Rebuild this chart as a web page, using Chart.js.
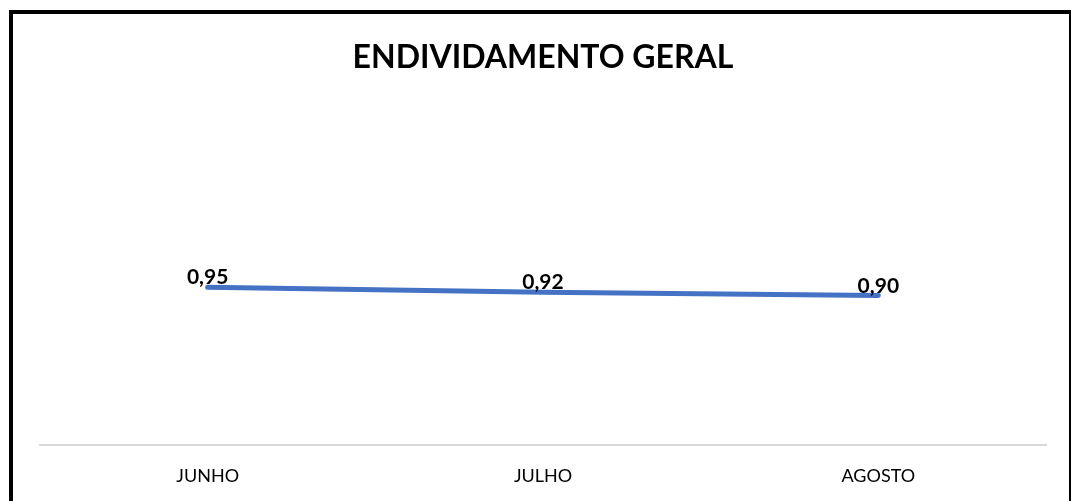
<!DOCTYPE html>
<html>
<head>
<meta charset="utf-8">
<script src="https://cdn.jsdelivr.net/npm/chart.js@4"></script>
<style>
  html, body { margin: 0; padding: 0; background: #fff; overflow: hidden; }
  #wrap { position: relative; width: 1074px; height: 501px; overflow: hidden; }
  #c { position: absolute; left: 0; top: 0; }
  #frame { position: absolute; left: 9px; top: 10px; width: 1056px; height: 520px;
           border-left: 4px solid #000; border-top: 4px solid #000; border-right: 2px solid #000;
           pointer-events: none; }
</style>
</head>
<body>
<div id="wrap">
  <canvas id="c" width="1074" height="521"></canvas>
  <div id="frame"></div>
</div>
<script>
const titleText = "ENDIVIDAMENTO GERAL";
const categories = ["JUNHO", "JULHO", "AGOSTO"];
const values = [0.95, 0.92, 0.90];
const valueLabels = ["0,95", "0,92", "0,90"];

const dataLabelPlugin = {
  id: 'dataLabels',
  afterDatasetsDraw(chart) {
    const ctx = chart.ctx;
    const meta = chart.getDatasetMeta(0);
    ctx.save();
    ctx.font = 'bold 21px Lato';
    ctx.fillStyle = '#000';
    ctx.textAlign = 'center';
    ctx.textBaseline = 'alphabetic';
    meta.data.forEach((pt, i) => {
      ctx.fillText(valueLabels[i], pt.x, pt.y - 3);
    });
    ctx.restore();
  }
};

new Chart(document.getElementById('c'), {
  type: 'line',
  data: {
    labels: categories,
    datasets: [{
      data: values,
      borderColor: '#4472C4',
      borderWidth: 5,
      borderCapStyle: 'round',
      borderJoinStyle: 'round',
      pointRadius: 0,
      pointHoverRadius: 0,
      tension: 0,
      fill: false
    }]
  },
  options: {
    responsive: false,
    animation: false,
    events: [],
    layout: { padding: { left: 40, right: 28, top: 38, bottom: 14 } },
    plugins: {
      legend: { display: false },
      tooltip: { enabled: false },
      title: {
        display: true,
        text: titleText,
        color: '#000',
        font: { family: 'Lato', size: 32, weight: 'bold' },
        padding: { top: 0, bottom: 36 }
      }
    },
    scales: {
      x: {
        offset: true,
        grid: { display: false, drawTicks: false },
        border: { display: true, color: '#d9d9d9', width: 2 },
        ticks: { color: '#000', font: { family: 'Lato', size: 18 }, padding: 20 }
      },
      y: {
        display: false,
        min: 0,
        max: 2
      }
    }
  },
  plugins: [dataLabelPlugin]
});
</script>
</body>
</html>
